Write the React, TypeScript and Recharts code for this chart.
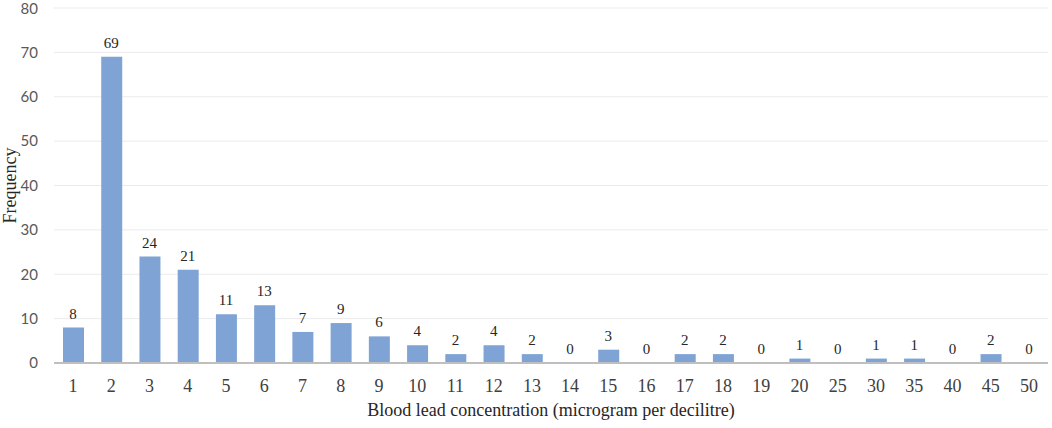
import { ComposedChart, Bar, Line, XAxis, YAxis, CartesianGrid, LabelList } from 'recharts';

// blood lead concentration bins (µg/dL)
const concentrations = ['1', '2', '3', '4', '5', '6', '7', '8', '9', '10', '11', '12', '13', '14', '15', '16', '17', '18', '19', '20', '25', '30', '35', '40', '45', '50'];
const frequencies = [8, 69, 24, 21, 11, 13, 7, 9, 6, 4, 2, 4, 2, 0, 3, 0, 2, 2, 0, 1, 0, 1, 1, 0, 2, 0];
const yTicks = [0, 10, 20, 30, 40, 50, 60, 70, 80];

const data = concentrations.map((c, i) => ({ conc: c, freq: frequencies[i] }));

const serif = '"Liberation Serif", "Times New Roman", serif';
const sans = 'Lato, "Open Sans", sans-serif';

export default function App() {
  return (
    <div style={{ width: 1052, height: 428, background: '#fff' }}>
      <style>{'body{margin:0}'}</style>
      <ComposedChart
        width={1052}
        height={428}
        data={data}
        margin={{ top: 8, right: 4, left: 0, bottom: 0 }}
      >
        <CartesianGrid vertical={false} stroke="#ebebeb" />
        <XAxis
          dataKey="conc"
          tickLine={false}
          axisLine={{ stroke: '#bfbfbf', strokeWidth: 2 }}
          tick={{ fontSize: 18, fill: '#404040', fontFamily: serif }}
          tickMargin={10}
          interval={0}
          height={65}
          label={{
            value: 'Blood lead concentration (microgram per decilitre)',
            position: 'insideBottom',
            offset: 12,
            style: { fontSize: 18, fill: '#262626', fontFamily: serif },
          }}
        />
        <YAxis
          domain={[0, 80]}
          ticks={yTicks}
          tickLine={false}
          axisLine={false}
          width={54}
          tickMargin={10}
          tick={{ fontSize: 15, fill: '#595959', fontFamily: sans }}
          label={{
            value: 'Frequency',
            angle: -90,
            position: 'insideLeft',
            offset: 10,
            style: { fontSize: 18, fill: '#262626', fontFamily: serif, textAnchor: 'middle' },
          }}
        />
        <Bar dataKey="freq" fill="#7ea3d4" barSize={21} isAnimationActive={false} />
        <Line dataKey="freq" stroke="none" dot={false} activeDot={false} isAnimationActive={false}>
          <LabelList
            dataKey="freq"
            position="top"
            offset={9}
            style={{ fontSize: 15, fill: '#262626', fontFamily: serif }}
          />
        </Line>
      </ComposedChart>
    </div>
  );
}
